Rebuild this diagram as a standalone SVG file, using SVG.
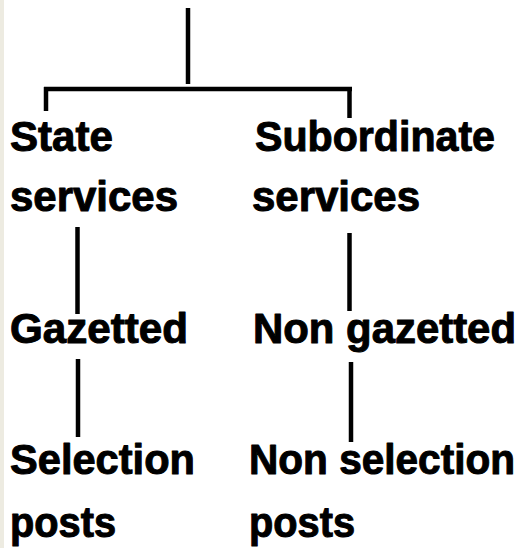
<svg xmlns="http://www.w3.org/2000/svg" width="529" height="548" viewBox="0 0 529 548">
<style>
.t{font-family:"Liberation Sans",Arial,sans-serif;font-weight:bold;font-size:42px;fill:#000;stroke:#000;stroke-width:1;stroke-linejoin:round}
.c line{stroke:#000;stroke-width:4.5;stroke-linecap:butt}
</style>
<rect x="0" y="0" width="529" height="548" fill="#ffffff"/>
<rect x="0" y="0" width="4" height="548" fill="#edebe1"/>
<g id="connectors" class="c">
<line x1="188" y1="8" x2="188" y2="84"/>
<line x1="44" y1="89" x2="352" y2="89"/>
<line x1="46" y1="87" x2="46" y2="111"/>
<line x1="349.5" y1="87" x2="349.5" y2="118"/>
<line x1="77.5" y1="227" x2="77.5" y2="314"/>
<line x1="349.5" y1="233" x2="349.5" y2="311"/>
<line x1="78" y1="359" x2="78" y2="437"/>
<line x1="351" y1="362" x2="351" y2="442"/>
</g>
<g id="state-services"><text class="t" x="10" y="151" textLength="103" lengthAdjust="spacingAndGlyphs">State</text><text class="t" x="10" y="211" textLength="168" lengthAdjust="spacingAndGlyphs">services</text></g>
<g id="subordinate-services"><text class="t" x="255" y="151" textLength="240" lengthAdjust="spacingAndGlyphs">Subordinate</text><text class="t" x="252" y="211" textLength="168" lengthAdjust="spacingAndGlyphs">services</text></g>
<g id="gazetted"><text class="t" x="10" y="343" textLength="178" lengthAdjust="spacingAndGlyphs">Gazetted</text></g>
<g id="non-gazetted"><text class="t" x="253" y="343" textLength="263" lengthAdjust="spacingAndGlyphs">Non gazetted</text></g>
<g id="selection-posts"><text class="t" x="10" y="474" textLength="185" lengthAdjust="spacingAndGlyphs">Selection</text><text class="t" x="10" y="537" textLength="106" lengthAdjust="spacingAndGlyphs">posts</text></g>
<g id="non-selection-posts"><text class="t" x="249" y="474" textLength="266" lengthAdjust="spacingAndGlyphs">Non selection</text><text class="t" x="249" y="537" textLength="106" lengthAdjust="spacingAndGlyphs">posts</text></g>
</svg>
